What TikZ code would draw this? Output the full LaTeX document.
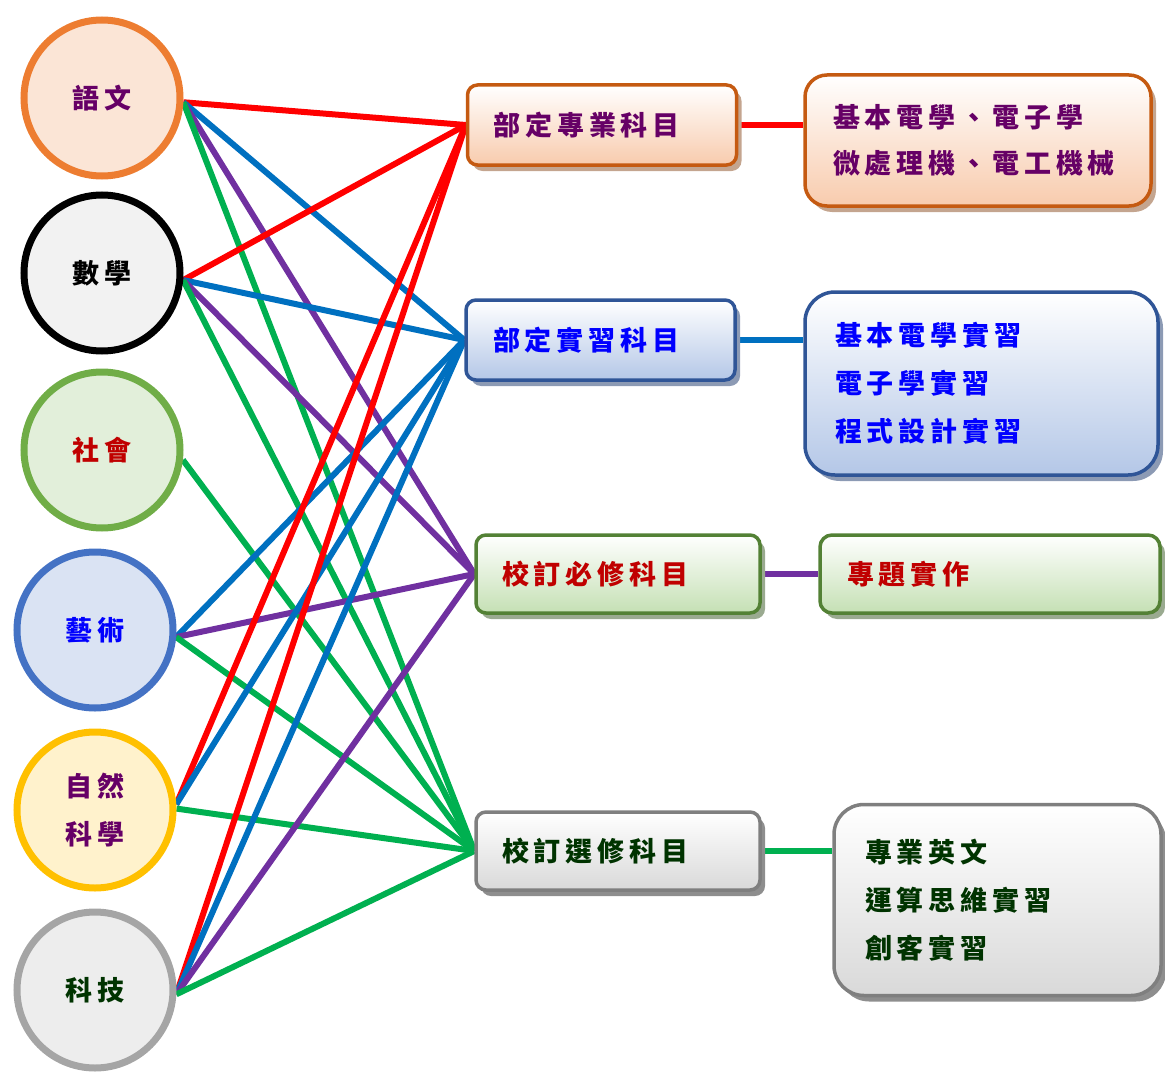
\documentclass[tikz,border=0pt]{standalone}
\usepackage{fontspec}
\newfontfamily\cjk{Noto Sans CJK TC}[LetterSpace=18]
\usetikzlibrary{shadows,calc}
\definecolor{corange}{HTML}{ED7D31}
\definecolor{forange}{HTML}{FBE5D6}
\definecolor{fgrayl}{HTML}{F2F2F2}
\definecolor{cgreen}{HTML}{70AD47}
\definecolor{fgreen}{HTML}{E2EFDA}
\definecolor{cblue}{HTML}{4472C4}
\definecolor{fblue}{HTML}{DAE3F3}
\definecolor{cgold}{HTML}{FFC000}
\definecolor{fgold}{HTML}{FFF2CC}
\definecolor{cgray}{HTML}{A5A5A5}
\definecolor{fgray}{HTML}{EDEDED}
\definecolor{tpurple}{HTML}{660066}
\definecolor{tblue}{HTML}{0000FF}
\definecolor{tred}{HTML}{C00000}
\definecolor{tgreen}{HTML}{003300}
\definecolor{lred}{HTML}{FF0000}
\definecolor{lblue}{HTML}{0070C0}
\definecolor{lpurple}{HTML}{7030A0}
\definecolor{lgreen}{HTML}{00B050}
\definecolor{borange}{HTML}{C55A11}
\definecolor{gorange}{HTML}{F8CBAD}
\definecolor{sorange}{HTML}{C4A58F}
\definecolor{bblue}{HTML}{2F5597}
\definecolor{gblue}{HTML}{B4C7E7}
\definecolor{sblue}{HTML}{8C9AB4}
\definecolor{bgreen}{HTML}{538135}
\definecolor{ggreen}{HTML}{C5E0B4}
\definecolor{sgreen}{HTML}{9AAA90}
\definecolor{bgray}{HTML}{7F7F7F}
\definecolor{ggray}{HTML}{D9D9D9}
\definecolor{sgray}{HTML}{8E8E8E}
\pgfdeclarelayer{bg}
\pgfsetlayers{bg,main}
\tikzset{
  circ/.style={circle, minimum size=156pt, inner sep=0pt, line width=7pt,
    font=\cjk\bfseries\fontsize{27}{48}\selectfont, align=center},
  sbox/.style 2 args={rounded corners=#1, line width=3.5pt, inner ysep=0pt,
    align=left, font=\cjk\bfseries\fontsize{27}{#2}\selectfont},
  orangebox/.style={draw=borange, top color=white, bottom color=gorange, text=tpurple,
    drop shadow={shadow xshift=5pt, shadow yshift=-6pt, fill=sorange, opacity=1}},
  bluebox/.style={draw=bblue, top color=white, bottom color=gblue, text=tblue,
    drop shadow={shadow xshift=5pt, shadow yshift=-6pt, fill=sblue, opacity=1}},
  greenbox/.style={draw=bgreen, top color=white, bottom color=ggreen, text=tred,
    drop shadow={shadow xshift=5pt, shadow yshift=-6pt, fill=sgreen, opacity=1}},
  graybox/.style={draw=bgray, top color=white, bottom color=ggray, text=tgreen,
    drop shadow={shadow xshift=5pt, shadow yshift=-6pt, fill=sgray, opacity=1}},
  conn/.style={line width=6pt}
}
\begin{document}
\begin{tikzpicture}[x=1pt,y=-1pt]
\useasboundingbox (0,0) rectangle (1165,1073);
% left circles
\node[circ, draw=corange, fill=forange, text=tpurple] (yw) at (102,98) {語文};
\node[circ, draw=black, fill=fgrayl, text=black] (sx) at (102,273) {數學};
\node[circ, draw=cgreen, fill=fgreen, text=tred] (sh) at (102,450) {社會};
\node[circ, draw=cblue, fill=fblue, text=tblue] (ys) at (95,630) {藝術};
\node[circ, draw=cgold, fill=fgold, text=tpurple] (zr) at (95,810) {自然\\科學};
\node[circ, draw=cgray, fill=fgray, text=tgreen] (kj) at (95,990) {科技};
% middle boxes
\node[sbox={10pt}{30}, orangebox, text width=217pt, inner xsep=26pt, minimum height=80pt] (b1) at (602,125) {部定專業科目};
\node[sbox={10pt}{30}, bluebox, text width=215pt, inner xsep=27pt, minimum height=80pt] (b2) at (600.5,340) {部定實習科目};
\node[sbox={10pt}{30}, greenbox, text width=232pt, inner xsep=26pt, minimum height=78pt] (b3) at (618,574) {校訂必修科目};
\node[sbox={10pt}{30}, graybox, text width=232pt, inner xsep=26pt, minimum height=78pt] (b4) at (618,851) {校訂選修科目};
% right boxes
\node[sbox={22pt}{46}, orangebox, text width=290pt, inner xsep=28pt, minimum height=131pt] (r1) at (978,140.5) {基本電學、電子學\\微處理機、電工機械};
\node[sbox={30pt}{48}, bluebox, text width=293pt, inner xsep=30pt, minimum height=183pt] (r2) at (981.5,383.5) {基本電學實習\\電子學實習\\程式設計實習};
\node[sbox={12pt}{30}, greenbox, text width=286pt, inner xsep=27pt, minimum height=78pt] (r3) at (990,574) {專題實作};
\node[sbox={30pt}{48}, graybox, text width=265pt, inner xsep=31pt, minimum height=191pt] (r4) at (997.5,900) {專業英文\\運算思維實習\\創客實習};
\begin{pgfonlayer}{bg}
  % 語文
  \draw[conn, lred] (yw.-3) -- (b1.west);
  \draw[conn, lblue] (yw.-3) -- (b2.west);
  \draw[conn, lpurple] (yw.-3) -- (b3.west);
  \draw[conn, lgreen] (yw.-3) -- (b4.west);
  % 數學
  \draw[conn, lred] (sx.-5) -- (b1.west);
  \draw[conn, lblue] (sx.-5) -- (b2.west);
  \draw[conn, lpurple] (sx.-5) -- (b3.west);
  \draw[conn, lgreen] (sx.-5) -- (b4.west);
  % 社會
  \draw[conn, lgreen] (sh.-7) -- (b4.west);
  % 藝術
  \draw[conn, lblue] (ys.-5) -- (b2.west);
  \draw[conn, lpurple] (ys.-5) -- (b3.west);
  \draw[conn, lgreen] (ys.-5) -- (b4.west);
  % 自然科學
  \draw[conn, lred] (zr.4) -- (b1.west);
  \draw[conn, lblue] (zr.4) -- (b2.west);
  \draw[conn, lgreen] (zr.1) -- (b4.west);
  % 科技
  \draw[conn, lred] (kj.-3) -- (b1.west);
  \draw[conn, lblue] (kj.-3) -- (b2.west);
  \draw[conn, lpurple] (kj.-3) -- (b3.west);
  \draw[conn, lgreen] (kj.-3) -- (b4.west);
  % middle to right
  \draw[conn, lred] (b1.east) -- (b1.east -| r1.west);
  \draw[conn, lblue] (b2.east) -- (b2.east -| r2.west);
  \draw[conn, lpurple] (b3.east) -- (b3.east -| r3.west);
  \draw[conn, lgreen] (b4.east) -- (b4.east -| r4.west);
\end{pgfonlayer}
\end{tikzpicture}
\end{document}
